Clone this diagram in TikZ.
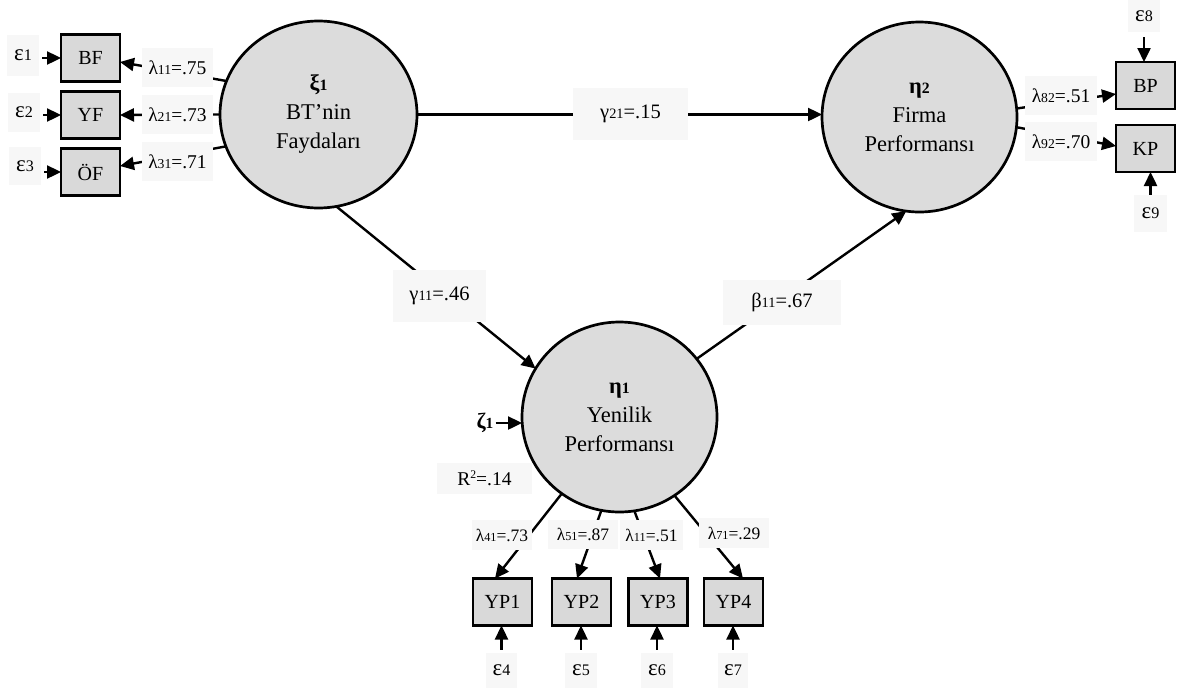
\documentclass[tikz,border=0pt]{standalone}
\usepackage{fontspec}
\setmainfont{Liberation Serif}
\usetikzlibrary{arrows.meta,shapes.geometric,calc}
\definecolor{circg}{HTML}{DCDCDC}
\definecolor{boxg}{HTML}{D9D9D9}
\definecolor{lblg}{HTML}{F7F7F7}
\newcommand\lsub[1]{\scalebox{0.7}{#1}}
\begin{document}
\begin{tikzpicture}[x=1pt,y=-1pt,
  lat/.style={ellipse,draw,line width=2.7pt,fill=circg,inner sep=0pt,outer sep=0pt,align=center,
    minimum width=195pt,minimum height=188pt,font=\fontsize{22.5}{29}\selectfont},
  obs/.style={rectangle,draw,line width=2.4pt,fill=boxg,inner sep=0pt,outer sep=0pt,
    minimum width=59pt,minimum height=47pt,font=\fontsize{20}{22}\selectfont},
  lbl/.style={rectangle,fill=lblg,inner sep=0pt,font=\fontsize{20.5}{22}\selectfont},
  epsl/.style={lbl,font=\fontsize{23}{24}\selectfont},
  arr/.style={line width=2.4pt,-{Triangle[length=14pt,width=13pt]}},
]
\useasboundingbox (0,0) rectangle (1177,691);

% latent variables
\node[lat,minimum width=197pt,minimum height=187pt] (xi) at (318.5,114.5) {{\bfseries ξ\lsub{1}}\\BT’nin\\Faydaları};
\node[lat,minimum width=195pt,minimum height=190pt] (eta2) at (919.5,117) {{\bfseries η\lsub{2}}\\Firma\\Performansı};
\node[lat,minimum width=195pt,minimum height=190pt] (eta1) at (619.5,417) {{\bfseries η\lsub{1}}\\Yenilik\\Performansı};

% observed variables
\node[obs] (BF) at (90.5,58) {BF};
\node[obs] (YF) at (90.5,115) {YF};
\node[obs] (OF) at (90.5,172) {ÖF};
\node[obs] (BP) at (1145.5,85.5) {BP};
\node[obs] (KP) at (1145.5,148.5) {KP};
\node[obs] (YP1) at (502.5,602) {YP1};
\node[obs] (YP2) at (581.5,602) {YP2};
\node[obs] (YP3) at (658,602) {YP3};
\node[obs] (YP4) at (733.5,602) {YP4};

% error labels
\node[epsl,minimum width=32pt,minimum height=41pt] (eps1) at (23,55.5) {ε\lsub{1}};
\node[epsl,minimum width=32pt,minimum height=39pt] (eps2) at (24,112.5) {ε\lsub{2}};
\node[epsl,minimum width=32pt,minimum height=38pt] (eps3) at (25,166) {ε\lsub{3}};
\node[epsl,minimum width=31pt,minimum height=35pt] (eps4) at (501.5,670.5) {ε\lsub{4}};
\node[epsl,minimum width=32pt,minimum height=35pt] (eps5) at (581,670.5) {ε\lsub{5}};
\node[epsl,minimum width=32pt,minimum height=35pt] (eps6) at (657,670.5) {ε\lsub{6}};
\node[epsl,minimum width=30pt,minimum height=35pt] (eps7) at (733,670.5) {ε\lsub{7}};
\node[epsl,minimum width=32pt,minimum height=32pt] (eps8) at (1144,16) {ε\lsub{8}};
\node[epsl,minimum width=33pt,minimum height=37pt] (eps9) at (1150.5,213.5) {ε\lsub{9}};
\node[font=\fontsize{22}{24}\selectfont\bfseries,inner sep=0pt] (zeta) at (485,423) {ζ\lsub{1}};

% connectors
\draw[arr,shorten <=3pt] (eps1.east |- BF.west) -- (BF.west);
\draw[arr,shorten <=3pt] (eps2.east |- YF.west) -- (YF.west);
\draw[arr,shorten <=3pt] (eps3.east |- OF.west) -- (OF.west);
\draw[arr] (xi.160.6) -- ([yshift=-4pt]BF.east);
\draw[arr] (xi.180) -- (YF.east);
\draw[arr] (xi.199.6) -- ([yshift=6pt]OF.east);
\draw[arr] (xi.east) -- (xi.east -| eta2.west);
\draw[arr] (xi.-79) -- (eta1.150.6);
\draw[arr] (eta1.37) -- (eta2.262.3);
\draw[arr] (eta2.5.5) -- ([yshift=-8.5pt]BP.west);
\draw[arr] (eta2.-6) -- ([yshift=2.5pt]KP.west);
\draw[arr,shorten <=5pt] (eps8.south) -- (eps8.south |- BP.north);
\draw[arr] (eps9.north) -- (eps9.north |- KP.south);
\draw[arr,shorten <=2pt] (zeta.east) -- (zeta.east -| eta1.west);
\draw[arr] (eta1.233.6) -- ([xshift=-7.5pt]YP1.north);
\draw[arr] (eta1.259.3) -- ([xshift=-4.5pt]YP2.north);
\draw[arr] (eta1.279.5) -- ([xshift=2pt]YP3.north);
\draw[arr] (eta1.305.4) -- ([xshift=9.5pt]YP4.north);
\draw[arr,shorten <=3pt] (eps4.north) -- (eps4.north |- YP1.south);
\draw[arr,shorten <=3pt] (eps5.north) -- (eps5.north |- YP2.south);
\draw[arr,shorten <=3pt] (eps6.north) -- (eps6.north |- YP3.south);
\draw[arr,shorten <=3pt] (eps7.north) -- (eps7.north |- YP4.south);

% coefficient labels
\node[lbl,font=\fontsize{19.5}{20}\selectfont,minimum width=71pt,minimum height=39pt] (l11) at (177.5,67.5) {λ\lsub{11}=.75};
\node[lbl,font=\fontsize{19.5}{20}\selectfont,minimum width=71pt,minimum height=39pt] (l21) at (177.5,114.5) {λ\lsub{21}=.73};
\node[lbl,font=\fontsize{19.5}{20}\selectfont,minimum width=71pt,minimum height=39pt] (l31) at (177.5,161.5) {λ\lsub{31}=.71};
\node[lbl,minimum width=115pt,minimum height=52pt] (g21) at (630.5,114) {γ\lsub{21}=.15};
\node[lbl,minimum width=93pt,minimum height=52pt] (g11) at (439.5,296) {γ\lsub{11}=.46};
\node[lbl,minimum width=118pt,minimum height=45pt] (b11) at (782,302.5) {β\lsub{11}=.67};
\node[lbl,font=\fontsize{19.5}{20}\selectfont,minimum width=72pt,minimum height=39pt] (l82) at (1061,95.5) {λ\lsub{82}=.51};
\node[lbl,font=\fontsize{19.5}{20}\selectfont,minimum width=72pt,minimum height=39pt] (l92) at (1061,141.5) {λ\lsub{92}=.70};
\node[lbl,font=\fontsize{19.5}{20}\selectfont,minimum width=95pt,minimum height=31pt] (R2) at (484.5,478.5) {R\raisebox{0.75ex}{\scalebox{0.6}{2}}=.14};
\node[lbl,font=\fontsize{17.5}{18}\selectfont,minimum width=60pt,minimum height=30pt] (l41) at (502,535) {λ\lsub{41}=.73};
\node[lbl,font=\fontsize{17.5}{18}\selectfont,minimum width=70pt,minimum height=29pt] (l51) at (583,534.5) {λ\lsub{51}=.87};
\node[lbl,font=\fontsize{17.5}{18}\selectfont,minimum width=63pt,minimum height=30pt] (l61) at (651.5,535) {λ\lsub{11}=.51};
\node[lbl,font=\fontsize{17.5}{18}\selectfont,minimum width=70pt,minimum height=30pt] (l71) at (734,533) {λ\lsub{71}=.29};
\end{tikzpicture}
\end{document}
